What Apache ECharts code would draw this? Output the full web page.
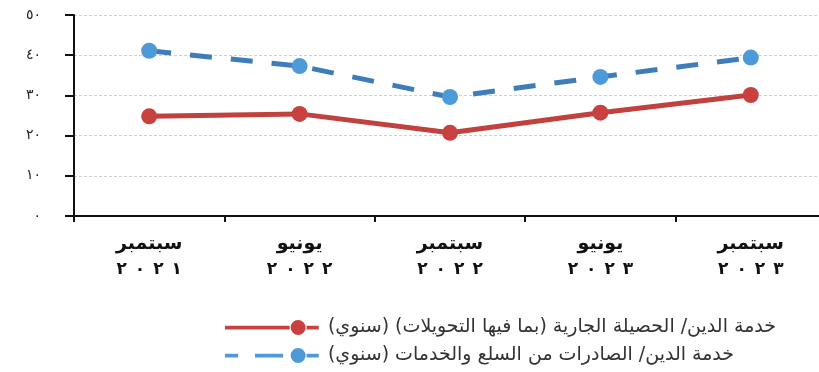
<!DOCTYPE html>
<html lang="ar">
<head>
<meta charset="utf-8">
<script src="https://cdn.jsdelivr.net/npm/echarts@6/dist/echarts.min.js"></script>
<style>
  html, body { margin: 0; padding: 0; background: #fff; overflow: hidden; }
  #chart { width: 826px; height: 372px; direction: rtl; }
</style>
</head>
<body>
<div id="chart"></div>
<script>
// Periods on the category axis (month / year)
const months = ['سبتمبر', 'يونيو', 'سبتمبر', 'يونيو', 'سبتمبر'];
const years = ['٢٠٢١', '٢٠٢٢', '٢٠٢٢', '٢٠٢٣', '٢٠٢٣'];

// Debt service ratios (%)
const debtToCurrentReceipts = [24.8, 25.4, 20.7, 25.7, 30.1];
const debtToExports = [41.1, 37.3, 29.6, 34.6, 39.4];

const seriesNames = [
  'خدمة الدين/ الحصيلة الجارية (بما فيها التحويلات) (سنوي)',
  'خدمة الدين/ الصادرات من السلع والخدمات (سنوي)'
];

// Y-axis tick labels in Arabic-Indic digits
const yTickLabels = { 0: '٠', 10: '١٠', 20: '٢٠', 30: '٣٠', 40: '٤٠', 50: '٥٠' };

const categories = months.map((m, i) => m + '|' + years[i]);
const font = 'DejaVu Sans';

// Legend keys: a line with a round marker near its right end
const solidKey = 'path://M0 6H69V10H0Z M87 6H100V10H87Z M70 8A8 8 0 1 0 86 8A8 8 0 1 0 70 8Z';
const dashedKey = 'path://M0 6H14V10H0Z M32 6H62V10H32Z M87 6H100V10H87Z M70 8A8 8 0 1 0 86 8A8 8 0 1 0 70 8Z';

// Year digits are drawn as separate rich-text pieces so they keep their order and spacing
function categoryLabel(value) {
  const parts = value.split('|');
  const digits = parts[1].split('').map(d => '{d|' + d + '}').join('');
  return '{m|' + parts[0] + '}\n' + digits;
}

const chart = echarts.init(document.getElementById('chart'), null, { renderer: 'canvas' });
chart.setOption({
  animation: false,
  backgroundColor: '#ffffff',
  textStyle: { fontFamily: font },
  grid: { left: 74, top: 15, right: 0, bottom: 156, containLabel: false },
  xAxis: {
    type: 'category',
    data: categories,
    boundaryGap: true,
    axisLine: { lineStyle: { color: '#111', width: 2 } },
    axisTick: { show: true, length: 6, lineStyle: { color: '#111', width: 2 } },
    axisLabel: {
      interval: 0, margin: 15,
      formatter: categoryLabel,
      rich: {
        m: { color: '#111', fontSize: 19, fontWeight: 'bold', fontFamily: font, lineHeight: 26 },
        d: { color: '#111', fontSize: 17, fontWeight: 'bold', fontFamily: font, lineHeight: 26, padding: [0, 4] }
      }
    },
    splitLine: { show: false }
  },
  yAxis: {
    type: 'value',
    min: 0, max: 50, interval: 10,
    axisLine: { show: true, lineStyle: { color: '#111', width: 2 } },
    axisTick: { show: true, length: 9, lineStyle: { color: '#111', width: 2 } },
    axisLabel: {
      color: '#222', fontSize: 14, fontFamily: font, margin: 33,
      formatter: v => yTickLabels[v]
    },
    splitLine: { show: true, lineStyle: { color: '#cfcfcf', width: 1, type: [3, 2] } }
  },
  legend: {
    orient: 'vertical',
    left: 220, top: 313, height: 80,
    itemWidth: 102, itemHeight: 15, itemGap: 9,
    textStyle: { color: '#333', fontSize: 19, fontFamily: font },
    data: [
      { name: seriesNames[0], icon: solidKey },
      { name: seriesNames[1], icon: dashedKey }
    ]
  },
  series: [
    {
      name: seriesNames[0],
      type: 'line',
      data: debtToCurrentReceipts,
      symbol: 'circle', symbolSize: 16,
      lineStyle: { color: '#c0413e', width: 5 },
      itemStyle: { color: '#c8413f' }
    },
    {
      name: seriesNames[1],
      type: 'line',
      data: debtToExports,
      symbol: 'circle', symbolSize: 16,
      lineStyle: { color: '#3f7dba', width: 5, type: [22, 19] },
      itemStyle: { color: '#4e9ad8' }
    }
  ]
});
</script>
</body>
</html>
